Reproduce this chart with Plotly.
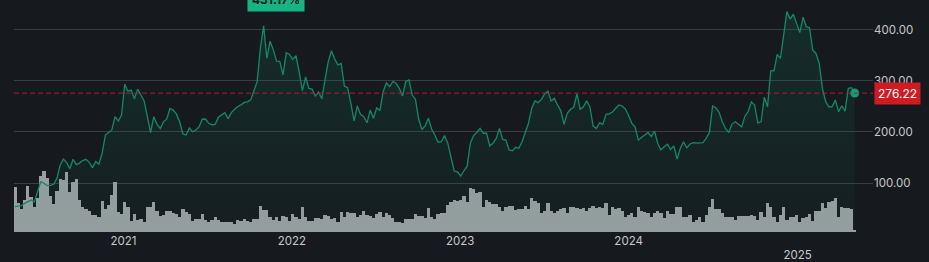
import plotly.graph_objects as go
import pandas as pd

# weekly dates (Mondays) from 2020-05-11, 261 weeks
dates = pd.date_range("2020-05-11", periods=261, freq="7D")

prices = [
    53.5, 54.5, 55.5, 60, 62.5, 66.5, 63, 81, 102.5, 99.5,
    95, 95.5, 97.5, 109, 135, 147, 140, 128, 146.5, 136,
    139, 144, 146.5, 140.5, 130, 142, 137, 158, 194, 199,
    204, 230, 221.5, 233, 293.5, 280, 282, 265, 284, 272.5,
    261, 230, 199, 230, 215, 207, 220, 225.5, 246, 243,
    235, 220, 196, 194, 208, 200.5, 204, 210, 225, 225.5,
    217, 214, 215, 229, 233, 238, 226, 238, 244.5, 250,
    253, 258, 259, 263, 281, 299, 365, 408, 344.5, 378,
    361, 339, 338.5, 312, 355.5, 352, 342.5, 349.5, 318, 281,
    308, 285.5, 284, 270.5, 278.5, 265, 302, 338, 359.5, 343,
    331.5, 334.5, 290, 287, 256, 222, 251, 234.5, 230, 218,
    243, 227, 247.5, 242, 279, 296.5, 289, 299, 295.5, 285.5,
    270.5, 299, 302, 272.5, 264, 225, 205, 212, 227, 206,
    194, 180, 181, 193, 178, 150, 123.5, 122, 113.7, 124,
    133, 178, 193, 199, 207, 197.5, 197.5, 173, 178, 187.5,
    207, 185.5, 184, 164.7, 163, 170, 168, 181, 197.5, 217,
    246.5, 261, 257.5, 264, 274.5, 280, 261, 266, 253, 242,
    215, 236.5, 244.5, 248.5, 274.5, 244.5, 249.5, 261, 249.5, 212,
    207, 218, 215, 234.5, 235.5, 239, 246.5, 253, 251, 245,
    232, 217, 210, 184, 189, 194, 199, 191, 202, 178,
    164.7, 171, 176, 166, 172.5, 147, 168, 181, 169, 176.5,
    179, 178, 178, 179, 187.5, 199, 251, 247.5, 238.5, 220,
    207, 199, 215.5, 220, 215, 210, 231, 240, 259, 253,
    218, 220, 268, 249.5, 320, 320, 352, 344.5, 390, 436,
    421.5, 431, 413, 395, 425, 406.5, 404.5, 361, 354, 334.5,
    285.5, 259.5, 249.5, 249.5, 262.7, 240, 251.5, 241, 285.5, 287,
    276.22,
]

# weekly volume, millions of shares
volumes = [
    1350, 870, 690, 960, 1380, 1050, 750, 1020, 1680, 1830,
    1620, 1080, 840, 1230, 1590, 1560, 1800, 1200, 1500, 1590,
    960, 750, 690, 630, 510, 510, 450, 930, 690, 810,
    1110, 1500, 600, 540, 900, 750, 330, 540, 360, 390,
    300, 750, 750, 900, 630, 480, 510, 630, 630, 570,
    540, 450, 690, 600, 540, 330, 390, 390, 540, 360,
    300, 360, 450, 360, 300, 300, 300, 300, 240, 360,
    330, 390, 330, 300, 390, 390, 780, 660, 660, 450,
    360, 450, 330, 480, 450, 330, 540, 450, 390, 750,
    450, 330, 330, 420, 420, 390, 510, 480, 390, 420,
    300, 600, 450, 600, 570, 570, 450, 510, 630, 510,
    480, 420, 540, 600, 450, 570, 510, 420, 300, 300,
    270, 390, 390, 390, 540, 480, 480, 420, 720, 450,
    390, 540, 570, 570, 810, 900, 960, 930, 960, 1080,
    900, 1320, 1290, 1170, 1200, 750, 960, 900, 840, 840,
    750, 630, 750, 780, 780, 660, 690, 690, 780, 690,
    1020, 930, 870, 570, 630, 870, 630, 570, 630, 690,
    720, 570, 750, 750, 720, 690, 720, 630, 720, 780,
    720, 750, 720, 870, 510, 750, 690, 720, 630, 450,
    510, 570, 450, 750, 630, 600, 570, 450, 570, 630,
    570, 420, 630, 540, 540, 750, 750, 450, 450, 510,
    300, 360, 450, 300, 510, 750, 990, 690, 690, 570,
    450, 450, 450, 360, 480, 480, 480, 480, 510, 480,
    360, 600, 450, 870, 750, 450, 300, 510, 750, 360,
    450, 450, 510, 300, 420, 450, 540, 330, 630, 630,
    870, 720, 900, 930, 1020, 450, 750, 720, 720, 690,
    60,
]

last_price = prices[-1]
peak_label = "431.17%"
year_ticks = ["2021-01-01", "2022-01-01", "2023-01-01", "2024-01-01", "2025-01-01"]
year_text = ["2021", "2022", "2023", "2024", "<br>2025"]
price_ticks = [100, 200, 300, 400]

BG = "#16191d"
LINE = "#0f8b6b"
GRID = "#3a3d41"
TXT = "#c6c8ca"

fig = go.Figure()

fig.add_trace(go.Bar(
    x=dates, y=volumes, yaxis="y",
    marker=dict(color="#9a9ea1", line=dict(width=0)),
    hoverinfo="skip",
))

fig.add_trace(go.Scatter(
    x=dates, y=prices, yaxis="y2", mode="lines",
    line=dict(color=LINE, width=1.3),
    fill="tozeroy",
    fillgradient=dict(
        type="vertical",
        colorscale=[[0, "rgba(16,150,115,0.04)"], [1, "rgba(16,150,115,0.16)"]],
    ),
    hoverinfo="skip",
))

fig.add_trace(go.Scatter(
    x=[dates[-1]], y=[last_price], yaxis="y2", mode="markers",
    marker=dict(color="#109c78", size=9),
    hoverinfo="skip",
))

fig.add_shape(
    type="line", xref="paper", x0=0, x1=1, yref="y2", y0=last_price, y1=last_price,
    line=dict(color="#a3262a", width=1, dash="5px,3px"),
)

fig.add_annotation(
    xref="paper", x=1, xanchor="left", xshift=1,
    yref="y2", y=last_price, yanchor="middle",
    text=f"{last_price:.2f}", showarrow=False,
    bgcolor="#cf1b22", borderpad=3,
    font=dict(color="#ffffff", size=12, family="Inter"),
)

fig.add_annotation(
    xref="paper", x=(276 - 14) / 859, xanchor="center",
    yref="paper", y=1 - 12 / 232, yanchor="bottom",
    text=f"<b>{peak_label}</b>", showarrow=False,
    bgcolor="#14b583", borderpad=4,
    font=dict(color="#0d1512", size=12, family="Inter"),
)

fig.update_layout(
    width=929, height=262,
    margin=dict(l=14, r=56, t=0, b=30),
    paper_bgcolor=BG, plot_bgcolor=BG,
    showlegend=False, bargap=0,
    font=dict(family="Inter", color=TXT, size=11.5),
    xaxis=dict(
        type="date", range=["2020-05-09", "2025-06-13 14:00"],
        tickvals=year_ticks, ticktext=year_text,
        showgrid=False, zeroline=False, showline=False, ticks="",
        tickfont=dict(color=TXT, size=11.5),
    ),
    yaxis=dict(
        range=[0, 6960], visible=False, showgrid=False, fixedrange=True,
    ),
    yaxis2=dict(
        overlaying="y", side="right", range=[3.92, 458.8],
        tickvals=price_ticks, tickformat=".2f",
        showgrid=True, gridcolor=GRID, gridwidth=1,
        zeroline=False, showline=False, ticks="",
        tickfont=dict(color=TXT, size=11.5),
    ),
)

fig.write_html("out.html")
